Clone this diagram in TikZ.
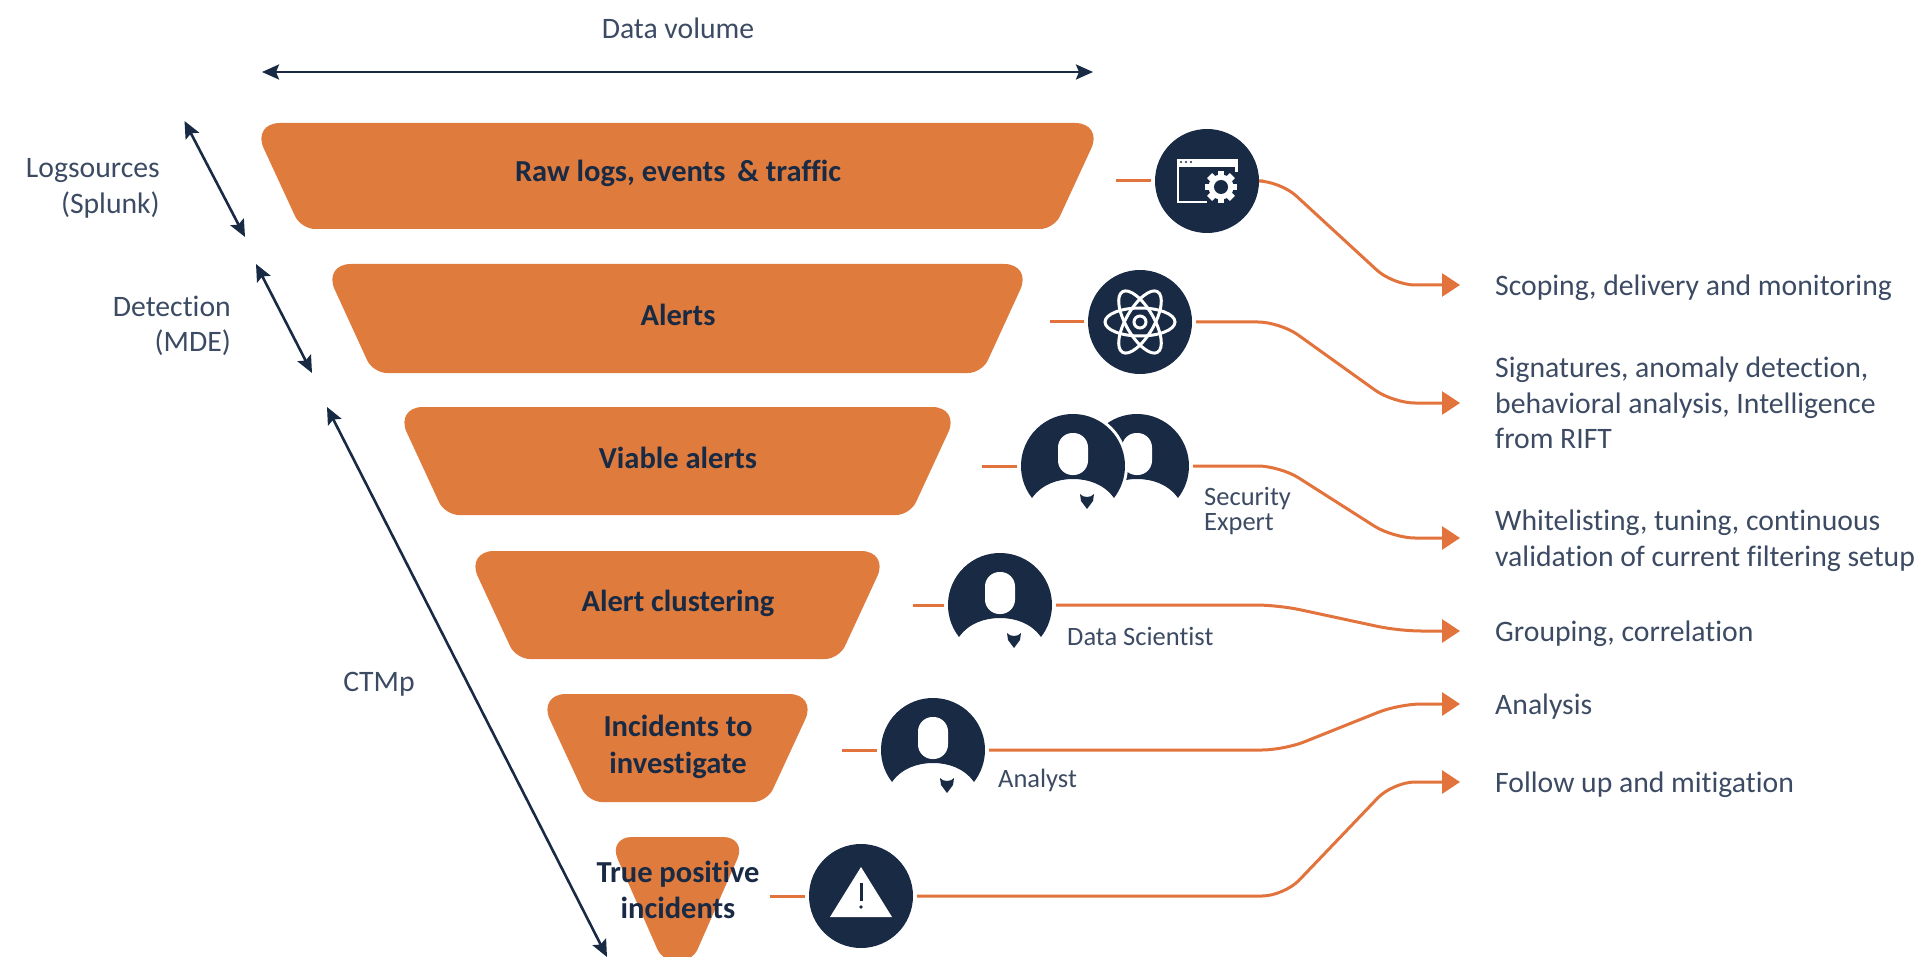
\documentclass[tikz,border=0pt]{standalone}
\usepackage{fontspec}
\setmainfont[Ligatures=NoCommon]{Carlito}
\usetikzlibrary{arrows.meta}
\definecolor{bandor}{HTML}{DF7B3C}
\definecolor{lineor}{HTML}{E2733C}
\definecolor{navy}{HTML}{192A44}
\definecolor{greytxt}{HTML}{3C4B63}
\tikzset{
  band/.style={fill=bandor},
  bandlabel/.style={font=\fontsize{30.5}{36.5}\selectfont\bfseries,text=navy,align=center,inner sep=0pt},
  dark/.style={draw=navy,line width=2.6pt,{Stealth[length=17pt,width=15pt,inset=3pt]}-{Stealth[length=17pt,width=15pt,inset=3pt]}},
  conn/.style={draw=lineor,line width=3pt,rounded corners=22pt},
  connarrow/.style={conn,-{Triangle[length=18pt,width=23pt]},shorten >=35pt},
  sidelabel/.style={font=\fontsize{29.7}{35.5}\selectfont,text=greytxt,inner sep=0pt},
  resultlabel/.style={font=\fontsize{29.7}{35.5}\selectfont,text=greytxt,inner sep=0pt,align=left,anchor=west},
  iconlabel/.style={font=\fontsize{26.5}{25}\selectfont,text=greytxt,inner sep=0pt,align=left,anchor=west},
  iconnode/.style={circle,minimum size=104pt,inner sep=0pt,outer sep=4pt},
  stub/.style={conn},
}
% #1 top y, #2 bottom y, #3 left top x, #4 left bottom x, #5 top radius, #6 bottom radius
\newcommand{\bandshape}[6]{%
  \fill[band] (678,#1) [rounded corners=#5pt] -- ({1355-#3},#1) [rounded corners=#6pt] -- ({1355-#4},#2) -- (#4,#2) [rounded corners=#5pt] -- (#3,#1) [sharp corners] -- cycle;}
\newcommand{\personbody}[2]{%
  \begin{scope}[shift={(#1,#2)}]
    \fill[navy] (-41,32) arc[start angle=218,end angle=-38,radius=52pt]
      .. controls (31,18) and (15,13) .. (0,13) .. controls (-15,13) and (-31,18) .. (-41,32) -- cycle;
    \fill[white,rounded corners=14.5pt] (-15,-33) rectangle (15,9);
  \end{scope}}
\newcommand{\persontie}[2]{%
  \begin{scope}[shift={(#1,#2)}]
    \fill[navy] (7,28) .. controls (10,32) and (18,32) .. (21,28) -- (20,35) -- (14,43) -- (8,35) -- cycle;
  \end{scope}}
\begin{document}
\begin{tikzpicture}[x=1pt,y=-1pt]
\useasboundingbox (0,0) rectangle (1924,957);
% bands
\bandshape{123}{229}{252}{301}{28}{14}
\bandshape{264}{373}{323}{373}{28}{14}
\bandshape{407}{515}{395}{445}{28}{14}
\bandshape{551}{659}{466}{516}{28}{14}
\bandshape{694}{802}{538}{588}{28}{14}
\bandshape{837}{962}{608}{663}{24}{14}
\node[bandlabel] (b1) at (678,173) {Raw logs, events \,\& traffic};
\node[bandlabel] (b2) at (678,315) {Alerts};
\node[bandlabel] (b3) at (678,458) {Viable alerts};
\node[bandlabel] (b4) at (678,603) {Alert clustering};
\node[bandlabel] (b5) at (678,747) {Incidents to\\investigate};
\node[bandlabel] (b6) at (678,890) {True positive\\incidents};
% dark arrows
\coordinate (da) at (262,72); \coordinate (db) at (1093,72);
\coordinate (la) at (184.5,121); \coordinate (lb) at (245,237);
\coordinate (ma) at (256,264); \coordinate (mb) at (312,373);
\coordinate (ca) at (327,407); \coordinate (cb) at (607,957);
\draw[dark] (da) -- (db);
\draw[dark] (la) -- (lb);
\draw[dark] (ma) -- (mb);
\draw[dark] (ca) -- (cb);
\node[sidelabel] (tv) at (678,28) {Data volume};
\node[sidelabel,align=right,anchor=east] (tl) at (160,188.5) {Logsources\\(Splunk)};
\node[sidelabel,align=right,anchor=east] (td) at (231,326) {Detection\\(MDE)};
\node[sidelabel] (tc) at (379,684) {CTMp};
% result labels
\node[resultlabel] (t1) at (1495,287.5) {Scoping, delivery and monitoring};
\node[resultlabel] (t2) at (1495,403) {Signatures, anomaly detection,\\behavioral analysis, Intelligence\\from RIFT};
\node[resultlabel] (t3) at (1495,540.5) {Whitelisting, tuning, continuous\\validation of current filtering setup};
\node[resultlabel] (t4) at (1495,633.5) {Grouping, correlation};
\node[resultlabel] (t5) at (1495,706.5) {Analysis};
\node[resultlabel] (t6) at (1495,784.5) {Follow up and mitigation};
% icon anchors
\node[iconnode] (i1) at (1207,181) {};
\node[iconnode] (i2) at (1140,322) {};
\node[iconnode] (i3) at (1073,466) {};
\node[iconnode] (i3b) at (1137,466) {};
\node[iconnode] (i4) at (1000,605) {};
\node[iconnode] (i5) at (933,750) {};
\node[iconnode] (i6) at (861,896) {};
% connector stubs
\coordinate (s1) at (1116,181);
\coordinate (s2) at (1050,322);
\coordinate (s3) at (982,466);
\coordinate (s4) at (913,605);
\coordinate (s5) at (842,750);
\coordinate (s6) at (770,896);
\draw[stub] (s1) -- (i1.west);
\draw[stub] (s2) -- (i2.west);
\draw[stub] (s3) -- (i3.west);
\draw[stub] (s4) -- (i4.west);
\draw[stub] (s5) -- (i5.west);
\draw[stub] (s6) -- (i6.west);
\coordinate (k1a) at (1280,181); \coordinate (k1b) at (1393,285);
\coordinate (k2a) at (1280,322); \coordinate (k2b) at (1393,403);
\coordinate (k3a) at (1280,466); \coordinate (k3b) at (1393,538);
\coordinate (k4a) at (1278,605); \coordinate (k4b) at (1399,631);
\coordinate (k5a) at (1284,750); \coordinate (k5b) at (1399,704);
\coordinate (k6a) at (1284,896); \coordinate (k6b) at (1393,782);
\draw[connarrow] (i1.east) -- (k1a) -- (k1b) -- ([yshift=2.5pt]t1.west);
\draw[connarrow] (i2.east) -- (k2a) -- (k2b) -- (t2.west);
\draw[connarrow] (i3b.east) -- (k3a) -- (k3b) -- ([yshift=2.5pt]t3.west);
\draw[connarrow] (i4.east) -- (k4a) -- (k4b) -- ([yshift=2.5pt]t4.west);
\draw[connarrow] (i5.east) -- (k5a) -- (k5b) -- ([yshift=2.5pt]t5.west);
\draw[connarrow] (i6.east) -- (k6a) -- (k6b) -- ([yshift=2.5pt]t6.west);
% icon 1: window and gear
\fill[navy] (i1.center) circle[radius=52pt];
\begin{scope}[shift={(1207,181)}]
  \fill[white] (-30,-22) rectangle (31,-14);
  \fill[navy] (-26,-19) circle[radius=1.1pt] (-21,-19) circle[radius=1.1pt] (-16,-19) circle[radius=1.1pt];
  \draw[white,line width=2.6pt] (-29,-16) -- (-29,21) -- (0,21);
  \draw[white,line width=2.6pt] (29.7,-16) -- (29.7,-9);
  \begin{scope}[shift={(14,6)}]
    \fill[navy] (0,0) circle[radius=20pt];
    \foreach \a in {0,45,...,315} {\fill[white,rotate=\a] (-3.4,-16) rectangle (3.4,16);}
    \fill[white] (0,0) circle[radius=12.5pt];
    \fill[navy] (0,0) circle[radius=7pt];
  \end{scope}
\end{scope}
% icon 2: atom
\fill[navy] (i2.center) circle[radius=52pt];
\begin{scope}[shift={(1140,322)}]
  \foreach \a in {0,60,120} {\draw[white,line width=3pt,rotate=\a] (0,0) circle[x radius=35pt,y radius=14pt];}
  \draw[white,line width=3pt] (0,0) circle[radius=6pt];
\end{scope}
% person icons
\personbody{1137}{466}
\fill[white] (i3.center) circle[radius=55pt];
\personbody{1073}{466}
\persontie{1073}{466}
\personbody{1000}{605}
\persontie{1000}{605}
\personbody{933}{750}
\persontie{933}{750}
% icon 6: warning
\fill[navy] (i6.center) circle[radius=52pt];
\begin{scope}[shift={(861,896)}]
  \fill[white] (0,-29) -- (31,21) -- (-31,21) -- cycle;
  \fill[navy] (-1.5,-13) rectangle (1.5,5);
  \fill[navy] (0,11) circle[radius=1.9pt];
\end{scope}
% icon labels
\node[iconlabel] (l3) at (1204,511.5) {Security\\Expert};
\node[iconlabel] (l4) at (1067,636) {Data Scientist};
\node[iconlabel] (l5) at (998,780) {Analyst};
\end{tikzpicture}
\end{document}
